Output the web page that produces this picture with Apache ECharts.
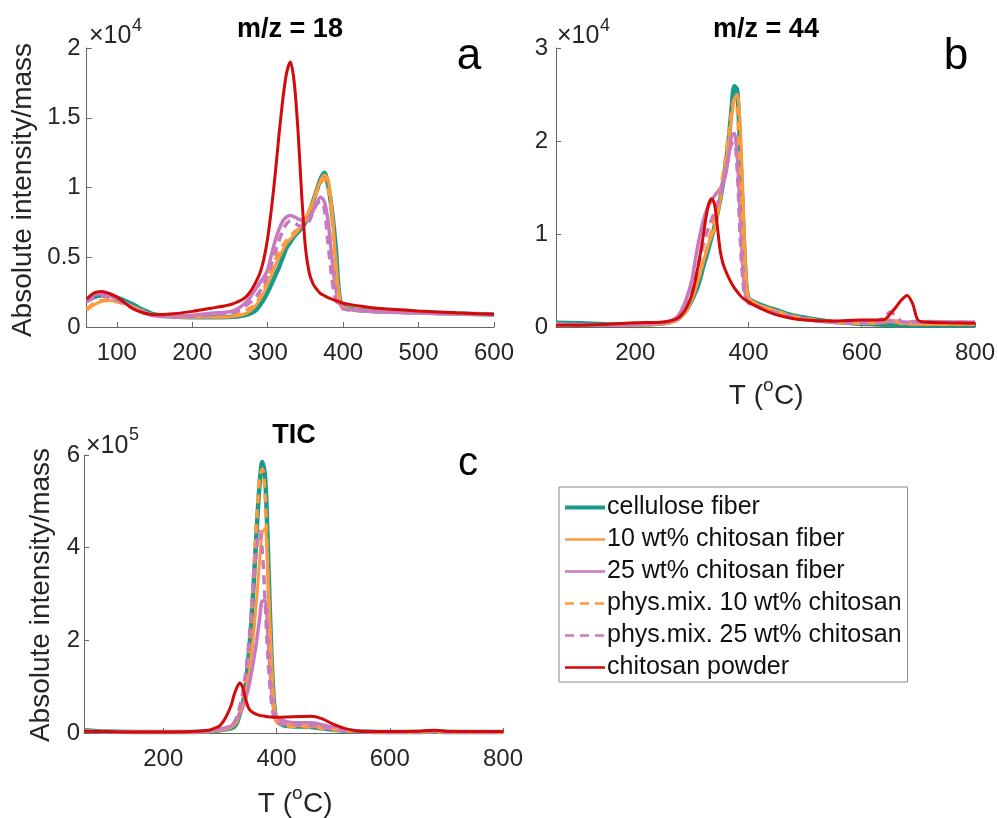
<!DOCTYPE html>
<html>
<head>
<meta charset="utf-8">
<script src="https://cdn.jsdelivr.net/npm/echarts@6/dist/echarts.min.js"></script>
<style>html,body{margin:0;padding:0;background:#fff}#c{width:998px;height:818px}</style>
</head>
<body>
<div id="c"></div>
<script>
// ---------- DATA ----------
const SERIES_NAMES = ['cellulose fiber','10 wt% chitosan fiber','25 wt% chitosan fiber','phys.mix. 10 wt% chitosan','phys.mix. 25 wt% chitosan','chitosan powder'];

// Panel a: m/z = 18 (x10^4)
const T_A = [60,70,80,90,100,110,120,130,140,150,175,200,225,250,260,270,275,280,285,290,295,300,305,310,315,320,325,330,335,340,345,350,355,360,365,370,375,380,385,390,395,400,410,425,450,500,550,600];
const A_cellulose = [0.19,0.215,0.225,0.225,0.21,0.19,0.165,0.135,0.11,0.09,0.075,0.07,0.07,0.072,0.075,0.085,0.092,0.105,0.125,0.16,0.2,0.25,0.31,0.37,0.43,0.5,0.57,0.61,0.65,0.68,0.71,0.75,0.82,0.9,0.98,1.06,1.105,1.02,0.84,0.58,0.22,0.15,0.13,0.12,0.112,0.105,0.097,0.09];
const A_fiber10 = [0.12,0.16,0.185,0.19,0.185,0.17,0.15,0.125,0.1,0.085,0.072,0.07,0.07,0.072,0.08,0.095,0.11,0.13,0.16,0.2,0.25,0.31,0.37,0.44,0.5,0.55,0.6,0.63,0.66,0.69,0.73,0.78,0.83,0.9,0.98,1.05,1.09,1.06,0.85,0.5,0.22,0.14,0.125,0.118,0.11,0.102,0.095,0.09];
const A_fiber25 = [0.2,0.235,0.24,0.225,0.2,0.175,0.145,0.115,0.095,0.08,0.078,0.085,0.098,0.11,0.13,0.17,0.2,0.24,0.28,0.32,0.36,0.41,0.52,0.62,0.7,0.76,0.79,0.8,0.79,0.775,0.765,0.76,0.78,0.83,0.89,0.93,0.9,0.76,0.5,0.28,0.17,0.14,0.125,0.118,0.11,0.1,0.095,0.09];
const A_mix10 = [0.13,0.17,0.19,0.19,0.18,0.165,0.145,0.12,0.1,0.085,0.075,0.075,0.08,0.086,0.1,0.115,0.13,0.146,0.175,0.215,0.27,0.35,0.42,0.48,0.54,0.58,0.62,0.65,0.68,0.7,0.73,0.77,0.83,0.9,0.97,1.03,1.06,1.0,0.8,0.42,0.19,0.14,0.125,0.118,0.11,0.102,0.095,0.09];
const A_mix25 = [0.18,0.21,0.22,0.21,0.195,0.17,0.14,0.115,0.095,0.08,0.072,0.075,0.085,0.097,0.115,0.15,0.17,0.19,0.22,0.26,0.31,0.37,0.45,0.54,0.62,0.69,0.74,0.76,0.75,0.73,0.72,0.73,0.76,0.82,0.88,0.9,0.85,0.6,0.35,0.2,0.15,0.13,0.12,0.115,0.108,0.1,0.095,0.09];
const A_powder = [0.2,0.245,0.255,0.24,0.215,0.175,0.135,0.11,0.095,0.088,0.095,0.112,0.135,0.16,0.18,0.21,0.24,0.28,0.33,0.39,0.49,0.64,0.85,1.1,1.38,1.63,1.82,1.9,1.76,1.42,0.95,0.57,0.39,0.31,0.27,0.24,0.225,0.21,0.2,0.19,0.18,0.17,0.16,0.148,0.132,0.115,0.102,0.092];

// Panel b: m/z = 44 (x10^4)
const T_B = [60,100,150,200,250,270,280,290,300,305,310,315,320,325,330,335,340,345,350,355,360,365,370,375,380,385,390,395,400,410,425,450,475,500,550,600,620,640,650,660,670,680,690,700,720,750,800];
const B_cellulose = [0.045,0.04,0.03,0.025,0.04,0.07,0.11,0.18,0.29,0.36,0.43,0.53,0.65,0.75,0.86,0.97,1.08,1.22,1.37,1.55,1.76,2.01,2.34,2.59,2.55,1.95,1.2,0.55,0.31,0.27,0.23,0.18,0.13,0.1,0.055,0.035,0.03,0.025,0.022,0.02,0.02,0.02,0.02,0.02,0.02,0.02,0.02];
const B_fiber10 = [0.03,0.025,0.02,0.02,0.035,0.06,0.1,0.17,0.3,0.38,0.48,0.58,0.7,0.8,0.9,0.98,1.06,1.2,1.36,1.55,1.76,2.0,2.25,2.45,2.5,2.2,1.45,0.65,0.32,0.26,0.22,0.17,0.12,0.09,0.055,0.04,0.04,0.05,0.06,0.05,0.04,0.035,0.035,0.03,0.03,0.03,0.03];
const B_fiber25 = [0.03,0.025,0.02,0.03,0.05,0.09,0.16,0.3,0.5,0.68,0.86,1.01,1.14,1.24,1.31,1.36,1.41,1.45,1.49,1.55,1.65,1.84,2.05,2.08,1.85,1.25,0.65,0.33,0.27,0.24,0.2,0.15,0.11,0.08,0.05,0.045,0.05,0.06,0.07,0.06,0.05,0.05,0.06,0.055,0.06,0.055,0.05];
const B_mix10 = [0.03,0.025,0.02,0.02,0.035,0.065,0.11,0.19,0.32,0.4,0.5,0.6,0.71,0.82,0.93,1.04,1.16,1.3,1.46,1.64,1.85,2.08,2.3,2.45,2.35,1.7,0.95,0.45,0.3,0.26,0.22,0.17,0.12,0.09,0.055,0.04,0.045,0.08,0.1,0.07,0.04,0.035,0.035,0.03,0.03,0.03,0.03];
const B_mix25 = [0.03,0.025,0.02,0.025,0.045,0.07,0.12,0.22,0.38,0.5,0.63,0.76,0.88,0.99,1.08,1.16,1.24,1.32,1.42,1.54,1.68,1.84,1.97,1.98,1.7,1.0,0.5,0.3,0.26,0.23,0.2,0.15,0.11,0.08,0.05,0.045,0.05,0.1,0.16,0.12,0.06,0.05,0.05,0.05,0.05,0.05,0.05];
const B_powder = [0.02,0.02,0.03,0.045,0.055,0.08,0.12,0.2,0.35,0.47,0.62,0.79,0.98,1.18,1.33,1.38,1.32,1.08,0.82,0.68,0.6,0.53,0.47,0.42,0.38,0.34,0.31,0.29,0.27,0.235,0.19,0.13,0.095,0.075,0.065,0.075,0.075,0.08,0.14,0.21,0.29,0.34,0.25,0.07,0.05,0.045,0.04];

// Panel c: TIC (x10^5)
const T_C = [60,100,150,200,250,280,290,300,310,320,325,330,335,340,345,350,355,360,365,370,375,380,385,390,395,400,410,420,440,460,480,500,520,540,560,600,650,680,700,750,800];
const C_cellulose = [0.06,0.03,0.02,0.02,0.02,0.03,0.04,0.06,0.08,0.1,0.13,0.22,0.4,0.62,0.95,1.55,2.3,3.3,4.38,5.35,5.85,5.5,3.9,2.0,0.75,0.28,0.18,0.15,0.14,0.13,0.1,0.07,0.05,0.04,0.03,0.02,0.02,0.03,0.02,0.02,0.02];
const C_fiber10 = [0.04,0.03,0.02,0.02,0.02,0.03,0.04,0.06,0.08,0.12,0.17,0.25,0.4,0.55,0.8,1.15,1.6,2.2,2.9,3.7,4.35,4.4,3.4,1.9,0.7,0.3,0.2,0.17,0.16,0.15,0.12,0.08,0.05,0.04,0.03,0.02,0.02,0.03,0.02,0.02,0.02];
const C_fiber25 = [0.04,0.03,0.02,0.02,0.025,0.04,0.06,0.08,0.11,0.15,0.22,0.3,0.42,0.55,0.72,0.95,1.25,1.6,2.0,2.45,2.85,2.85,2.1,1.1,0.5,0.32,0.27,0.24,0.22,0.22,0.18,0.12,0.07,0.04,0.03,0.02,0.02,0.03,0.02,0.02,0.02];
const C_mix10 = [0.04,0.03,0.02,0.02,0.02,0.03,0.045,0.065,0.09,0.13,0.18,0.28,0.45,0.7,1.1,1.7,2.5,3.5,4.6,5.5,5.7,5.1,3.3,1.6,0.6,0.25,0.17,0.15,0.14,0.13,0.1,0.07,0.05,0.04,0.03,0.02,0.02,0.03,0.02,0.02,0.02];
const C_mix25 = [0.04,0.03,0.02,0.02,0.025,0.04,0.06,0.08,0.11,0.15,0.22,0.35,0.55,0.85,1.25,1.8,2.5,3.3,4.0,4.35,3.9,2.8,1.6,0.8,0.35,0.22,0.2,0.19,0.18,0.17,0.13,0.08,0.05,0.04,0.03,0.02,0.02,0.03,0.02,0.02,0.02];
const C_powder = [0.04,0.03,0.02,0.02,0.03,0.06,0.1,0.16,0.33,0.6,0.82,0.98,1.08,1.0,0.75,0.56,0.47,0.43,0.4,0.38,0.37,0.36,0.35,0.345,0.34,0.34,0.34,0.345,0.355,0.36,0.31,0.19,0.1,0.05,0.03,0.03,0.04,0.06,0.04,0.03,0.03];

// Tick labels
const XTICKS_A = [100,200,300,400,500,600];
const XTICKS_BC = [200,400,600,800];

// ---------- STYLE ----------
const FONT = "'Liberation Sans', Arial, Helvetica, sans-serif";
const LINE_STYLES = [
  {color:'#1a9a8b', width:4.5, type:'solid'},
  {color:'#fb9b3d', width:3, type:'solid'},
  {color:'#c97abf', width:3.5, type:'solid'},
  {color:'#fb9b3d', width:3.5, type:[9,6]},
  {color:'#c97abf', width:3.5, type:[9,6]},
  {color:'#d20a0a', width:3, type:'solid'}
];
const LEGEND_WIDTHS = [4, 2.5, 2.5, 2.5, 2.5, 2.5];

const panels = [
  {T:T_A, vals:[A_cellulose,A_fiber10,A_fiber25,A_mix10,A_mix25,A_powder]},
  {T:T_B, vals:[B_cellulose,B_fiber10,B_fiber25,B_mix10,B_mix25,B_powder]},
  {T:T_C, vals:[C_cellulose,C_fiber10,C_fiber25,C_mix10,C_mix25,C_powder]}
];

const series = [];
panels.forEach((p, pi) => {
  p.vals.forEach((v, si) => {
    series.push({
      type:'line', name:SERIES_NAMES[si], xAxisIndex:pi, yAxisIndex:pi,
      data:p.T.map((t,i)=>[t, v[i]]),
      symbol:'none', showSymbol:false, smooth:0.3, z:2+si,
      lineStyle:Object.assign({}, LINE_STYLES[si]),
      itemStyle:{color:LINE_STYLES[si].color},
      emphasis:{disabled:true}
    });
  });
});

const axisLineStyle = {color:'#666', width:1};
function xAxis(grid, min, max, ticks){
  return {type:'value', gridIndex:grid, min:min, max:max,
    axisLine:{show:true, onZero:false, lineStyle:axisLineStyle},
    axisTick:{show:true, inside:true, length:5, customValues:ticks, lineStyle:axisLineStyle},
    axisLabel:{show:true, customValues:ticks, fontSize:24, color:'#262626', fontFamily:FONT, margin:14},
    splitLine:{show:false}};
}
function yAxis(grid, max, interval, margin){
  return {type:'value', gridIndex:grid, min:0, max:max, interval:interval,
    axisLine:{show:true, lineStyle:axisLineStyle},
    axisTick:{show:true, inside:true, length:5, lineStyle:axisLineStyle},
    axisLabel:{show:true, fontSize:24, color:'#262626', fontFamily:FONT, margin:margin},
    splitLine:{show:false}};
}

function txt(x, y, text, size, opts){
  opts = opts || {};
  return {type:'text', x:x, y:y, rotation:opts.rot||0, z:100, silent:true,
    style:{text:text, fontSize:size, fontFamily:FONT, fontWeight:opts.bold?'bold':'normal',
      fill:opts.fill||'#000', align:opts.align||'center', textAlign:opts.align||'center',
      verticalAlign:'middle', textVerticalAlign:'middle'}};
}

const graphic = [
  txt(290, 30, 'm/z = 18', 27, {bold:true}),
  txt(766, 30, 'm/z = 44', 27, {bold:true}),
  txt(294, 436, 'TIC', 27, {bold:true}),
  txt(469, 57, 'a', 44),
  txt(956, 57, 'b', 44),
  txt(468, 464, 'c', 40),
  txt(89, 36, '×10', 25, {align:'left', fill:'#262626'}),
  txt(132, 26, '4', 18, {align:'left', fill:'#262626'}),
  txt(557, 36, '×10', 25, {align:'left', fill:'#262626'}),
  txt(600, 26, '4', 18, {align:'left', fill:'#262626'}),
  txt(86, 446, '×10', 25, {align:'left', fill:'#262626'}),
  txt(129, 435, '5', 18, {align:'left', fill:'#262626'}),
  txt(23, 190, 'Absolute intensity/mass', 28, {rot:Math.PI/2, fill:'#262626'}),
  txt(41, 595, 'Absolute intensity/mass', 28, {rot:Math.PI/2, fill:'#262626'}),
  txt(763, 396, 'T (', 28, {align:'right', fill:'#262626'}),
  txt(763, 386, 'o', 19, {align:'left', fill:'#262626'}),
  txt(774, 396, 'C)', 28, {align:'left', fill:'#262626'}),
  txt(292, 804, 'T (', 28, {align:'right', fill:'#262626'}),
  txt(292, 794, 'o', 19, {align:'left', fill:'#262626'}),
  txt(303, 804, 'C)', 28, {align:'left', fill:'#262626'})
];

const option = {
  animation:false,
  backgroundColor:'#fff',
  grid:[
    {left:86.7, top:48, width:407.3, height:279},
    {left:556, top:48, width:420.7, height:279},
    {left:84, top:455, width:419, height:278}
  ],
  xAxis:[xAxis(0,60,600,XTICKS_A), xAxis(1,60,800,XTICKS_BC), xAxis(2,60,800,XTICKS_BC)],
  yAxis:[yAxis(0,2,0.5,6), yAxis(1,3,1,8), yAxis(2,6,2,4)],
  legend:{
    data:SERIES_NAMES.map((n,i)=>({name:n, lineStyle:{width:LEGEND_WIDTHS[i]}})),
    orient:'vertical', left:559, top:487,
    itemWidth:40, itemHeight:14, itemGap:7, padding:[8,6,2,4],
    borderColor:'#888', borderWidth:1, backgroundColor:'#fff', borderRadius:0,
    selectedMode:false,
    itemStyle:{color:'rgba(0,0,0,0)', borderColor:'rgba(0,0,0,0)', borderWidth:0},
    textStyle:{fontSize:25, color:'#111', fontFamily:FONT, padding:[0,0,0,-3]}
  },
  graphic:graphic,
  series:series
};
const chart = echarts.init(document.getElementById('c'), null, {renderer:'canvas'});
chart.setOption(option);
</script>
</body>
</html>
